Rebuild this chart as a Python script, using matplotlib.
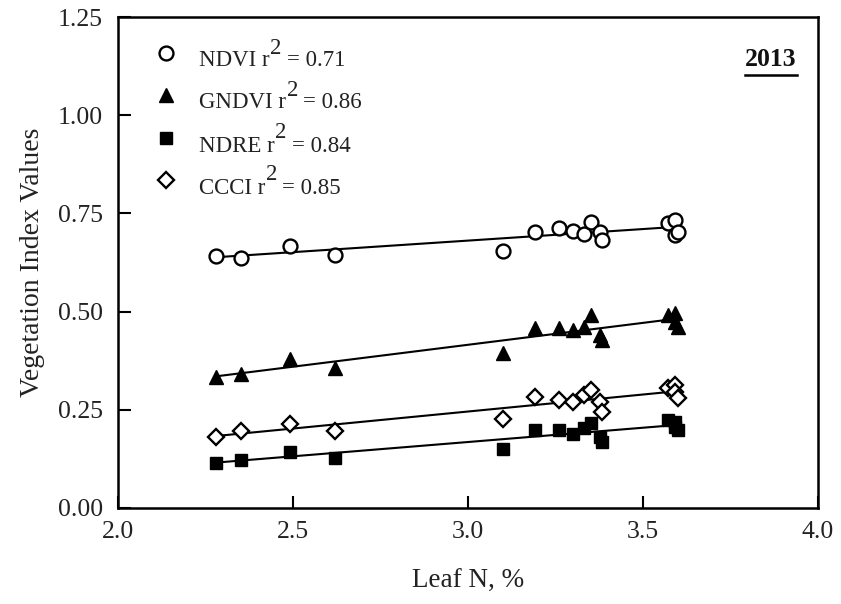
import matplotlib
matplotlib.use("Agg")
import matplotlib.pyplot as plt
import numpy as np

plt.rcParams['font.family'] = ['Liberation Serif', 'DejaVu Serif']

# Leaf N (%) for each sampled plot
leaf_n = [2.28, 2.35, 2.49, 2.62, 3.10, 3.19, 3.26, 3.30, 3.33, 3.35, 3.377, 3.383,
          3.57, 3.59, 3.59, 3.60]

ndvi = [0.642, 0.636, 0.668, 0.645, 0.654, 0.702, 0.713, 0.705, 0.698, 0.728, 0.703, 0.682,
        0.725, 0.733, 0.695, 0.703]
gndvi = [0.333, 0.341, 0.379, 0.356, 0.394, 0.458, 0.458, 0.453, 0.461, 0.491, 0.440, 0.428,
         0.491, 0.496, 0.474, 0.461]
ndre = [0.115, 0.122, 0.143, 0.127, 0.151, 0.199, 0.199, 0.188, 0.204, 0.217, 0.181, 0.168,
        0.224, 0.219, 0.205, 0.199]
ccci = [0.181, 0.196, 0.214, 0.196, 0.226, 0.283, 0.275, 0.270, 0.288, 0.300, 0.270, 0.244,
        0.305, 0.313, 0.295, 0.280]

series_names = ["NDVI", "GNDVI", "NDRE", "CCCI"]
r_squared = [0.71, 0.86, 0.84, 0.85]
year_label = "2013"

x_ticks = [2.0, 2.5, 3.0, 3.5, 4.0]
y_ticks = [0.00, 0.25, 0.50, 0.75, 1.00, 1.25]

styles = [
    dict(marker='o', mfc='white', mec='black', ms=10, mew=1.7),
    dict(marker='^', mfc='black', mec='black', ms=10.5, mew=1.0),
    dict(marker='s', mfc='black', mec='black', ms=8.5, mew=1.0),
    dict(marker='D', mfc='white', mec='black', ms=8.5, mew=1.7),
]

W, H = 841, 604
fig = plt.figure(figsize=(W / 100, H / 100), dpi=100)
AX_L, AX_R, AX_T, AX_B = 118, 818, 17, 508
ax = fig.add_axes([AX_L / W, 1 - AX_B / H, (AX_R - AX_L) / W, (AX_B - AX_T) / H])


def ax_frac(px, py):
    """Pixel position inside the figure -> axes fraction."""
    return (px - AX_L) / (AX_R - AX_L), (AX_B - py) / (AX_B - AX_T)


x = np.array(leaf_n)
all_series = [ndvi, gndvi, ndre, ccci]
for vals, st in zip(all_series, styles):
    y = np.array(vals)
    slope, icpt = np.polyfit(x, y, 1)
    xl = np.array([x.min(), x.max()])
    ax.plot(xl, slope * xl + icpt, color='black', lw=1.5, zorder=2)
    ax.plot(x, y, ls='none', zorder=3, **st)

ax.set_xlim(2.0, 4.0)
ax.set_ylim(0.0, 1.25)
ax.set_xticks(x_ticks)
ax.set_yticks(y_ticks)
ax.set_xticklabels([f"{v:.1f}" for v in x_ticks])
ax.set_yticklabels([f"{v:.2f}" for v in y_ticks])
ax.tick_params(direction='in', length=9, width=1.5, labelsize=18.5,
               top=False, right=False, colors='black', labelcolor='#222222')
ax.tick_params(axis='x', pad=9)
ax.tick_params(axis='y', pad=11)
for sp in ax.spines.values():
    sp.set_linewidth(1.8)

ax.set_xlabel("Leaf N, %", fontsize=19.5, labelpad=19, color='#222222')
ax.set_ylabel("Vegetation Index Values", fontsize=20, labelpad=9, color='#222222')

# Key: marker, name with r^2 (full-size raised superscript)
fig.canvas.draw()
renderer = fig.canvas.get_renderer()
row_y = [61, 103, 146, 188]
for name, r2, st, py in zip(series_names, r_squared, styles, row_y):
    mx, my = ax_frac(166, py - 8)
    ax.plot([mx], [my], transform=ax.transAxes, ls='none', clip_on=False, **st)
    tx, ty = ax_frac(199, py)
    t1 = ax.text(tx, ty, name + " r", transform=ax.transAxes, fontsize=16.5,
                 ha='left', va='center', color='#222222')
    bb = t1.get_window_extent(renderer)
    x_end = bb.x1  # display px, origin bottom-left
    sx, sy = ax_frac(x_end + 0.5, py - 13)
    ax.text(sx, sy, "2", transform=ax.transAxes, fontsize=16.5, ha='left',
            va='center', color='#222222')
    ex, ey = ax_frac(x_end + 17, py)
    ax.text(ex, ey, f"= {r2:.2f}", transform=ax.transAxes, fontsize=16.5,
            ha='left', va='center', color='#222222')

yx, yy = ax_frac(797, 59)
yt = ax.text(yx, yy, year_label, transform=ax.transAxes, ha='right', va='center',
             fontsize=18.5, fontweight='bold', color='#111111')
bb = yt.get_window_extent(renderer)
ux0, uy = ax_frac(bb.x0, 75)
ux1, _ = ax_frac(bb.x1, 75)
ax.plot([ux0, ux1], [uy, uy], transform=ax.transAxes, color='black', lw=1.8,
        clip_on=False)

fig.savefig("out.png", dpi=100)
